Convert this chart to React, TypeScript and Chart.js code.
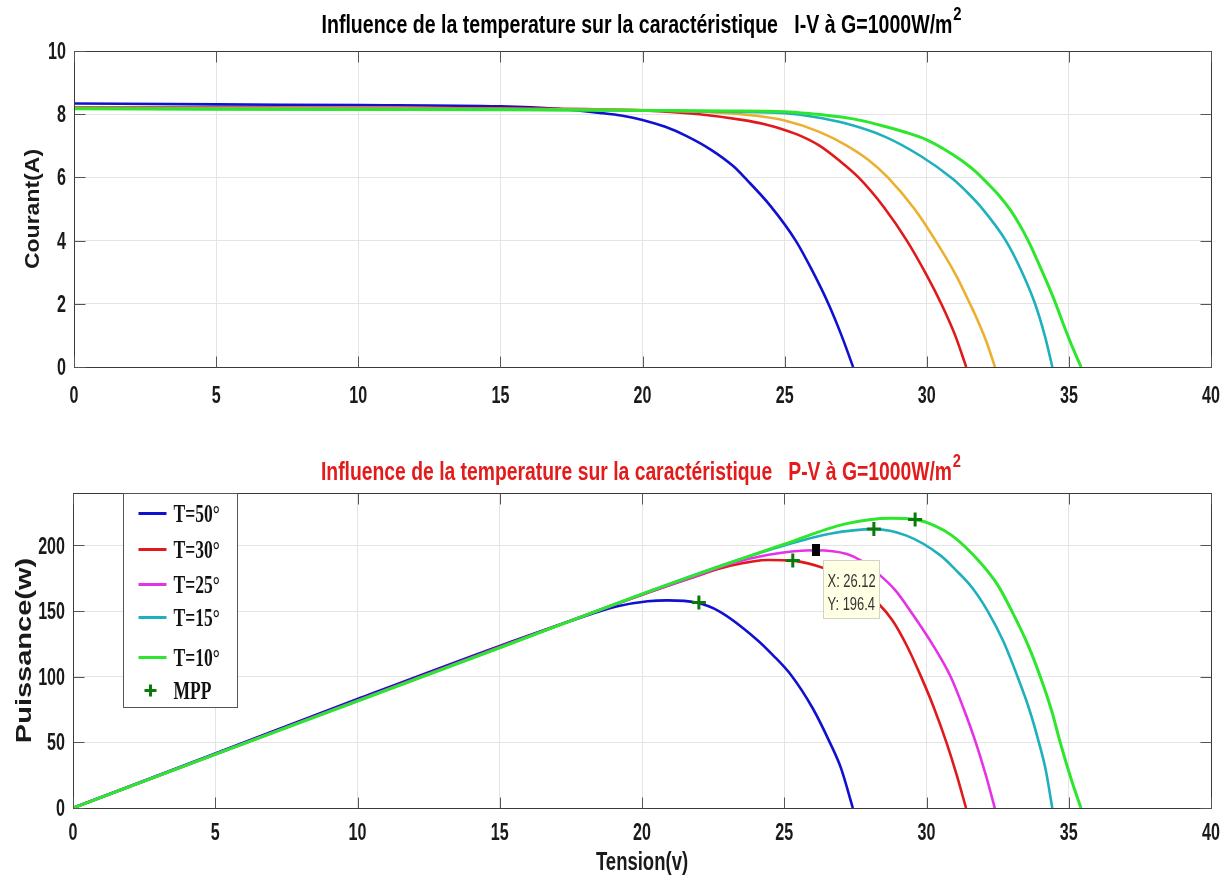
import React, { useEffect, useRef } from "react";
import { Chart, registerables } from "chart.js";

Chart.register(...registerables);

// ---------- I-V data (top) ----------
const ivV_T50 = [0, 5, 10, 15, 17, 18.5, 19.3, 20, 20.8, 21.5, 22.4, 23.2, 23.64, 24.5, 25.39, 26.0, 26.54, 27.0, 27.41];
const ivI_T50 = [8.34, 8.31, 8.29, 8.25, 8.17, 8.04, 7.95, 7.82, 7.6, 7.33, 6.88, 6.35, 5.95, 5.1, 4.0, 3.0, 2.0, 1.0, 0];

const ivV_T30 = [0, 5, 10, 15, 18, 20, 22, 23.5, 24.3, 25, 25.6, 26.2, 26.9, 27.6, 28.5, 29.3, 30.0, 30.51, 31.0, 31.39];
const ivI_T30 = [8.22, 8.21, 8.2, 8.19, 8.16, 8.12, 8.0, 7.82, 7.68, 7.5, 7.3, 7.02, 6.55, 6.0, 5.05, 4.0, 2.9, 2.0, 1.0, 0];

const ivV_T25 = [0, 5, 10, 15, 18, 20, 22, 23, 24, 25, 26.2, 27.14, 27.95, 28.63, 29.57, 30.31, 31.05, 31.52, 31.73, 32.1, 32.4];
const ivI_T25 = [8.2, 8.19, 8.18, 8.17, 8.15, 8.13, 8.08, 8.03, 7.95, 7.8, 7.45, 7.03, 6.55, 6.0, 5.0, 4.0, 2.87, 2.0, 1.6, 0.8, 0];

const ivV_T15 = [0, 5, 10, 15, 20, 23, 25, 26, 27.1, 28.5, 29.8, 30.92, 31.4, 31.9, 32.78, 33.3, 33.81, 34.15, 34.42];
const ivI_T15 = [8.18, 8.17, 8.16, 8.15, 8.12, 8.08, 8.03, 7.92, 7.72, 7.3, 6.67, 5.95, 5.55, 5.07, 4.0, 3.1, 2.0, 1.0, 0];

const ivV_T10 = [0, 5, 10, 15, 20, 23, 25, 26, 27, 27.8, 28.5, 29.25, 30.0, 30.6, 31.2, 31.7, 32.13, 32.55, 32.94, 33.3, 33.61, 33.95, 34.29, 34.56, 34.82, 35.12, 35.43];
const ivI_T10 = [8.17, 8.16, 8.15, 8.14, 8.12, 8.1, 8.08, 8.01, 7.91, 7.78, 7.62, 7.43, 7.19, 6.9, 6.55, 6.2, 5.82, 5.42, 4.97, 4.45, 3.92, 3.25, 2.55, 1.95, 1.32, 0.64, 0];

// ---------- P-V data (bottom) ----------
const pvV_T50 = [0, 5, 10, 15, 17.7, 19.1, 20.2, 20.9, 21.9, 22.7, 24.0, 24.6, 25.25, 26.0, 26.6, 27.0, 27.41];
const pvP_T50 = [0, 41.5, 83, 123.5, 144, 153.5, 157.5, 158.2, 156.5, 150, 129, 116.5, 101, 76, 50, 30, 0];

const pvV_T30 = [0, 5, 10, 15, 20, 21.75, 23.1, 24.45, 25.3, 26.5, 27.2, 27.8, 28.3, 28.8, 29.3, 29.77, 30.25, 30.7, 31.05, 31.39];
const pvP_T30 = [0, 41, 82, 122.8, 162.5, 175.5, 184.5, 189, 188.5, 182, 175, 165, 156, 143, 124, 102, 77, 50, 26, 0];

const pvV_T25 = [0, 5, 10, 15, 20, 22, 23.1, 24.45, 26.12, 27.2, 27.7, 28.25, 28.9, 29.5, 30.2, 30.85, 31.3, 31.73, 32.1, 32.4];
const pvP_T25 = [0, 41, 82, 122.5, 162.5, 177.5, 186, 193, 196.4, 193.5, 188.5, 179.5, 166, 148, 125, 100, 76, 50, 24, 0];

const pvV_T15 = [0, 5, 10, 15, 20, 23.1, 25, 26.6, 28.15, 29.3, 30.5, 31.0, 31.6, 32.15, 32.7, 33.2, 33.6, 33.95, 34.2, 34.42];
const pvP_T15 = [0, 41, 81.5, 122.3, 163, 187, 200, 209, 212.5, 207.5, 192.3, 182, 168, 150, 127, 100, 76, 50, 28, 0];

const pvV_T10 = [0, 5, 10, 15, 20, 25, 27.15, 28.75, 29.6, 30.3, 30.9, 31.85, 32.5, 33.0, 33.55, 34.0, 34.4, 34.7, 35.1, 35.43];
const pvP_T10 = [0, 40.8, 81.4, 122, 163, 201, 216.5, 220.8, 219.8, 215, 207.5, 188, 170, 150, 125, 100, 74, 50, 21, 0];

const mppV = [22.0, 25.3, 28.15, 29.6];
const mppP = [156.5, 188.5, 212.5, 219.8];

const tipX = 26.12;
const tipY = 196.4;

const seriesLabels = ["T=50°", "T=30°", "T=25°", "T=15°", "T=10°", "MPP"];

const topTitle = "Influence de la temperature sur la caractéristique   I-V à G=1000W/m";
const bottomTitle = "Influence de la temperature sur la caractéristique   P-V à G=1000W/m";
const titleSup = "2";
const yTitleTop = "Courant(A)";
const yTitleBottom = "Puissance(w)";
const xTitleBottom = "Tension(v)";

// ---------- styles ----------
const C50 = "#1010d0";
const C30 = "#e01a1a";
const C25top = "#ebb030";
const C25 = "#e632e6";
const C15 = "#1fb0bd";
const C10 = "#2de62d";
const CMPP = "#0b7a0b";

const SANS = "'Liberation Sans', Arial, sans-serif";
const SERIF = "'Liberation Serif', 'Times New Roman', serif";
const TEXT = "#1a1a1a";
const SQ = 0.7; // horizontal squeeze of the reference text

const pts = (xs: number[], ys: number[]) => xs.map((x, i) => ({ x, y: ys[i] }));

function sqText(
  ctx: CanvasRenderingContext2D,
  text: string,
  x: number,
  y: number,
  font: string,
  color: string,
  align: CanvasTextAlign,
  baseline: CanvasTextBaseline,
  sx: number,
  sy = 1,
  rot = 0
) {
  ctx.save();
  ctx.translate(x, y);
  if (rot) ctx.rotate(rot);
  ctx.scale(sx, sy);
  ctx.font = font;
  ctx.fillStyle = color;
  ctx.textAlign = align;
  ctx.textBaseline = baseline;
  ctx.fillText(text, 0, 0);
  ctx.restore();
}

function fitTitle(ctx: CanvasRenderingContext2D, text: string, cx: number, baseline: number, targetW: number, color: string) {
  ctx.save();
  const mainFont = "bold 25px " + SANS;
  const supFont = "bold 19px " + SANS;
  ctx.font = mainFont;
  const w1 = ctx.measureText(text).width;
  ctx.font = supFont;
  const w2 = ctx.measureText(titleSup).width;
  const sx = targetW / (w1 + w2 + 1);
  const x0 = cx - targetW / 2;
  sqText(ctx, text, x0, baseline, mainFont, color, "left", "alphabetic", sx);
  sqText(ctx, titleSup, x0 + (w1 + 1) * sx, baseline - 13, supFont, color, "left", "alphabetic", sx);
  ctx.restore();
}

const framePlugin = {
  id: "frame",
  afterDatasetsDraw(chart: any) {
    const { ctx, chartArea, scales } = chart;
    const left = Math.round(chartArea.left) + 0.5;
    const top = Math.round(chartArea.top) + 0.5;
    const right = Math.round(chartArea.right) + 0.5;
    const bottom = Math.round(chartArea.bottom) + 0.5;
    ctx.save();
    ctx.strokeStyle = "#3a3a3a";
    ctx.lineWidth = 1;
    ctx.strokeRect(left, top, right - left, bottom - top);
    ctx.strokeStyle = "#555";
    ctx.beginPath();
    const tl = 11;
    scales.x.ticks.forEach((t: any) => {
      const px = Math.round(scales.x.getPixelForValue(t.value)) + 0.5;
      ctx.moveTo(px, bottom);
      ctx.lineTo(px, bottom - tl);
      ctx.moveTo(px, top);
      ctx.lineTo(px, top + tl);
    });
    scales.y.ticks.forEach((t: any) => {
      const py = Math.round(scales.y.getPixelForValue(t.value)) + 0.5;
      ctx.moveTo(left, py);
      ctx.lineTo(left + tl, py);
      ctx.moveTo(right, py);
      ctx.lineTo(right - tl, py);
    });
    ctx.stroke();
    ctx.restore();
  },
};

// tick labels and axis titles, squeezed like the reference
const makeTextPlugin = (cfg: {
  title: string;
  titleColor: string;
  titleBaseline: number;
  xLabelBaseline: number;
  yTitle: string;
  yTitleX: number;
  yTitleSize: number;
  yTitleSq: number;
  xTitle?: string;
  xTitleBaseline?: number;
}) => ({
  id: "sqText",
  afterDraw(chart: any) {
    const { ctx, chartArea, scales } = chart;
    const tickFont = "bold 23px " + SANS;
    scales.x.ticks.forEach((t: any) => {
      const px = scales.x.getPixelForValue(t.value);
      sqText(ctx, String(t.value), px, cfg.xLabelBaseline, tickFont, TEXT, "center", "alphabetic", SQ);
    });
    scales.y.ticks.forEach((t: any) => {
      const py = scales.y.getPixelForValue(t.value);
      sqText(ctx, String(t.value), chartArea.left - 8, py + 8, tickFont, TEXT, "right", "alphabetic", SQ);
    });
    const cx = (chartArea.left + chartArea.right) / 2;
    fitTitle(ctx, cfg.title, cx - 1, cfg.titleBaseline, 640, cfg.titleColor);
    const cy = (chartArea.top + chartArea.bottom) / 2;
    sqText(
      ctx,
      cfg.yTitle,
      cfg.yTitleX,
      cy,
      "bold " + cfg.yTitleSize + "px " + SANS,
      TEXT,
      "center",
      "middle",
      1,
      cfg.yTitleSq,
      -Math.PI / 2
    );
    if (cfg.xTitle) {
      sqText(ctx, cfg.xTitle, cx, cfg.xTitleBaseline as number, "bold 25px " + SANS, TEXT, "center", "alphabetic", 0.74);
    }
  },
});

const legendBoxPlugin = {
  id: "legendBox",
  afterDraw(chart: any) {
    const { ctx, chartArea } = chart;
    const x0 = Math.round(chartArea.left) + 50.5;
    const y0 = Math.round(chartArea.top) + 0.5;
    const w = 114;
    const h = 214;
    const rows = [20, 56, 91, 124, 164, 197];
    ctx.save();
    ctx.fillStyle = "#ffffff";
    ctx.fillRect(x0, y0, w, h);
    ctx.strokeStyle = "#555";
    ctx.lineWidth = 1;
    ctx.strokeRect(x0, y0, w, h);
    chart.data.datasets.forEach((ds: any, i: number) => {
      const y = y0 + rows[i];
      ctx.strokeStyle = ds.borderColor;
      ctx.lineWidth = 3;
      ctx.beginPath();
      if (ds.showLine === false) {
        ctx.moveTo(x0 + 27, y - 6);
        ctx.lineTo(x0 + 27, y + 6);
        ctx.moveTo(x0 + 21, y);
        ctx.lineTo(x0 + 33, y);
      } else {
        ctx.moveTo(x0 + 15, y);
        ctx.lineTo(x0 + 43, y);
      }
      ctx.stroke();
      sqText(ctx, ds.label, x0 + 50, y + 8, "bold 25px " + SERIF, "#111", "left", "alphabetic", 0.7);
    });
    ctx.restore();
  },
};

const datatipPlugin = {
  id: "datatip",
  afterDraw(chart: any) {
    const { ctx, scales } = chart;
    const px = scales.x.getPixelForValue(tipX);
    const py = scales.y.getPixelForValue(tipY);
    ctx.save();
    ctx.fillStyle = "#000";
    ctx.fillRect(Math.round(px) - 4, Math.round(py) - 6, 8, 12);
    const bx = Math.round(px + 7) + 0.5;
    const by = Math.round(py + 10) + 0.5;
    ctx.fillStyle = "#ffffe4";
    ctx.fillRect(bx, by, 56, 58);
    ctx.strokeStyle = "#d2d2c8";
    ctx.lineWidth = 1;
    ctx.strokeRect(bx, by, 56, 58);
    const f = "18px " + SANS;
    sqText(ctx, "X: " + tipX.toFixed(2), bx + 4, by + 26, f, "#333", "left", "alphabetic", 0.72);
    sqText(ctx, "Y: " + tipY.toFixed(1), bx + 4, by + 49, f, "#333", "left", "alphabetic", 0.72);
    ctx.restore();
  },
};

const gridColor = "#e4e4e4";

const lineDs = (label: string, data: any[], color: string, order: number, width = 2.6) => ({
  label,
  data,
  borderColor: color,
  backgroundColor: color,
  borderWidth: width,
  pointRadius: 0,
  fill: false,
  cubicInterpolationMode: "monotone" as const,
  order,
});

const axisX = (h: number) => ({
  type: "linear",
  min: 0,
  max: 40,
  ticks: { stepSize: 5, display: false },
  grid: { color: gridColor, drawTicks: false },
  border: { color: "#3a3a3a" },
  afterFit: (s: any) => {
    s.height = h;
  },
});

const axisY = (max: number, step: number, w: number) => ({
  type: "linear",
  min: 0,
  max,
  ticks: { stepSize: step, display: false, includeBounds: false },
  grid: { color: gridColor, drawTicks: false },
  border: { color: "#3a3a3a" },
  afterFit: (s: any) => {
    s.width = w;
  },
});

export default function App() {
  const topRef = useRef<HTMLCanvasElement | null>(null);
  const botRef = useRef<HTMLCanvasElement | null>(null);

  useEffect(() => {
    const top = new Chart(topRef.current as HTMLCanvasElement, {
      type: "line",
      data: {
        datasets: [
          lineDs(seriesLabels[0], pts(ivV_T50, ivI_T50), C50, 5),
          lineDs(seriesLabels[1], pts(ivV_T30, ivI_T30), C30, 4),
          lineDs(seriesLabels[2], pts(ivV_T25, ivI_T25), C25top, 3),
          lineDs(seriesLabels[3], pts(ivV_T15, ivI_T15), C15, 2),
          lineDs(seriesLabels[4], pts(ivV_T10, ivI_T10), C10, 1, 3),
        ],
      },
      options: {
        responsive: false,
        animation: false,
        layout: { padding: { left: 0, right: 17, top: 51, bottom: 0 } },
        plugins: { legend: { display: false }, tooltip: { enabled: false }, title: { display: false } },
        scales: { x: axisX(53), y: axisY(10, 2, 74) },
      },
      plugins: [
        framePlugin,
        makeTextPlugin({
          title: topTitle,
          titleColor: "#000",
          titleBaseline: 33,
          xLabelBaseline: 403,
          yTitle: yTitleTop,
          yTitleX: 34,
          yTitleSize: 23,
          yTitleSq: 0.85,
        }),
      ],
    } as any);

    const bot = new Chart(botRef.current as HTMLCanvasElement, {
      type: "line",
      data: {
        datasets: [
          lineDs(seriesLabels[0], pts(pvV_T50, pvP_T50), C50, 6),
          lineDs(seriesLabels[1], pts(pvV_T30, pvP_T30), C30, 5),
          lineDs(seriesLabels[2], pts(pvV_T25, pvP_T25), C25, 4),
          lineDs(seriesLabels[3], pts(pvV_T15, pvP_T15), C15, 3),
          lineDs(seriesLabels[4], pts(pvV_T10, pvP_T10), C10, 2, 3),
          {
            label: seriesLabels[5],
            data: pts(mppV, mppP),
            showLine: false,
            pointStyle: "cross",
            pointRadius: 7,
            pointBorderWidth: 3,
            borderColor: CMPP,
            backgroundColor: CMPP,
            order: 1,
          },
        ],
      },
      options: {
        responsive: false,
        animation: false,
        layout: { padding: { left: 0, right: 17, top: 73, bottom: 0 } },
        plugins: { legend: { display: false }, tooltip: { enabled: false }, title: { display: false } },
        scales: { x: axisX(79), y: axisY(240, 50, 73) },
      },
      plugins: [
        framePlugin,
        makeTextPlugin({
          title: bottomTitle,
          titleColor: "#e31b1b",
          titleBaseline: 60,
          xLabelBaseline: 420,
          yTitle: yTitleBottom,
          yTitleX: 25,
          yTitleSize: 29,
          yTitleSq: 0.74,
          xTitle: xTitleBottom,
          xTitleBaseline: 450,
        }),
        legendBoxPlugin,
        datatipPlugin,
      ],
    } as any);

    return () => {
      top.destroy();
      bot.destroy();
    };
  }, []);

  return (
    <div style={{ position: "absolute", left: 0, top: 0, width: 1228, height: 887, background: "#fff" }}>
      <canvas ref={topRef} width={1228} height={420} style={{ position: "absolute", left: 0, top: 0 }} />
      <canvas ref={botRef} width={1228} height={467} style={{ position: "absolute", left: 0, top: 420 }} />
    </div>
  );
}
